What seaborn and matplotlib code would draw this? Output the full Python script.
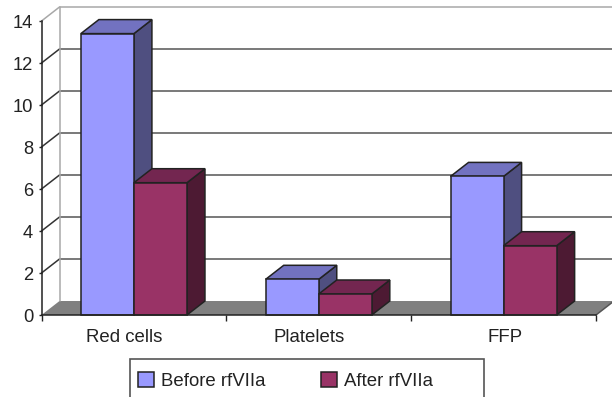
import numpy as np
import pandas as pd
import matplotlib
matplotlib.use("Agg")
import matplotlib.pyplot as plt
import seaborn as sns
from matplotlib.patches import Polygon, Rectangle

categories = ["Red cells", "Platelets", "FFP"]
before = [13.4, 1.7, 6.6]
after = [6.3, 1.0, 3.3]
series_names = ["Before rfVIIa", "After rfVIIa"]
y_ticks = [0, 2, 4, 6, 8, 10, 12, 14]

# colours: front, top, side
front_cols = ["#9999FF", "#993366"]
top_cols = ["#7272C0", "#732650"]
side_cols = ["#4F4F80", "#4D1A33"]

W, H = 612, 397
LEFT, RIGHT, BOTTOM, TOP = 41.5, 596, 315, 21

# depth of the fake 3d box, in data units
DX = 18 / ((RIGHT - LEFT) / 3)
DY = 14 / ((BOTTOM - TOP) / 14)

sns.set_theme(style="white")
plt.rcParams["font.family"] = ["Liberation Sans", "DejaVu Sans"]

df = pd.DataFrame({
    "category": categories * 2,
    "series": [series_names[0]] * 3 + [series_names[1]] * 3,
    "value": before + after,
})

fig = plt.figure(figsize=(W / 100, H / 100), dpi=100)
ax = fig.add_axes([LEFT / W, 1 - BOTTOM / H, (RIGHT - LEFT) / W, (BOTTOM - TOP) / H])

sns.barplot(data=df, x="category", y="value", hue="series", order=categories,
            hue_order=series_names, palette=front_cols, width=0.574, gap=0,
            edgecolor="#222222", linewidth=1.1, saturation=1, ax=ax)
handles, labels = ax.get_legend_handles_labels()
ax.get_legend().remove()

ax.set_xlim(-0.5, 2.5)
ax.set_ylim(0, 14)
ax.set_xlabel("")
ax.set_ylabel("")

#--------back wall and floor--------
x0, x1 = -0.5, 2.5
ax.add_patch(Polygon([(x0, 0), (x1, 0), (x1 + DX, DY), (x0 + DX, DY)],
                     facecolor="#808080", edgecolor="none", clip_on=False, zorder=1))
for t in y_ticks[1:-1]:
    ax.plot([x0 + DX, x1 + DX], [t + DY, t + DY], color="#555555", lw=1.1,
            clip_on=False, zorder=1.5)
    ax.plot([x0, x0 + DX], [t, t + DY], color="#333333", lw=1.1,
            clip_on=False, zorder=1.5)
ax.plot([x0, x0 + DX], [14, 14 + DY], color="#a8a8a8", lw=1.1, clip_on=False, zorder=1.5)
ax.plot([x0 + DX, x1 + DX], [14 + DY, 14 + DY], color="#a8a8a8", lw=1.1, clip_on=False, zorder=1.5)
ax.plot([x0 + DX, x0 + DX], [DY, 14 + DY], color="#a8a8a8", lw=1.1, clip_on=False, zorder=1.5)
ax.plot([x1, x1 + DX], [0, DY], color="#555555", lw=1.1, clip_on=False, zorder=1.5)

#--------bar sides and tops, built from the seaborn bars--------
z = 3
for i, cont in enumerate(ax.containers):
    for bar in cont:
        l, w, h = bar.get_x(), bar.get_width(), bar.get_height()
        r = l + w
        ax.add_patch(Polygon([(r, 0), (r + DX, DY), (r + DX, h + DY), (r, h)],
                             facecolor=side_cols[i], edgecolor="#222222", lw=1.1,
                             clip_on=False, zorder=z))
        ax.add_patch(Polygon([(l, h), (r, h), (r + DX, h + DY), (l + DX, h + DY)],
                             facecolor=top_cols[i], edgecolor="#222222", lw=1.1,
                             clip_on=False, zorder=z))
        bar.set_zorder(z + 0.5)
        bar.set_clip_on(False)
    z += 1

#--------axes--------
sns.despine(ax=ax)
for s in ["left", "bottom"]:
    ax.spines[s].set_color("#222222")
    ax.spines[s].set_linewidth(1.1)
    ax.spines[s].set_zorder(8)
ax.patch.set_alpha(0)
ax.set_yticks(y_ticks)
ax.set_xticks([-0.5, 0.5, 1.5, 2.5], labels=["", "", "", ""])
# the labels in the original sit a bit left of the bar groups
ax.set_xticks([-0.053, 0.95, 2.01], labels=categories, minor=True)
ax.tick_params(axis="y", left=True, length=2.2, width=1, color="#222222",
               labelsize=13.2, labelcolor="#222222", pad=3.8)
ax.tick_params(axis="x", which="major", bottom=True, length=4, width=1, color="#222222")
ax.tick_params(axis="x", which="minor", bottom=False, length=0, labelsize=13.4,
               labelcolor="#222222", pad=10)

#--------legend--------
fig.add_artist(Rectangle((130 / W, 1 - 410 / H), 354 / W, 51 / H, transform=fig.transFigure,
                         facecolor="white", edgecolor="#555555", lw=1.2))
leg = fig.legend(handles, labels, loc="center left", bbox_to_anchor=(131 / W, 1 - 381 / H),
                 ncol=2, frameon=False, fontsize=13.4, labelcolor="#222222",
                 borderpad=0.4, borderaxespad=0, handlelength=0.86, handleheight=0.86,
                 handletextpad=0.36, columnspacing=3.0)

fig.savefig("out.png", dpi=100)
